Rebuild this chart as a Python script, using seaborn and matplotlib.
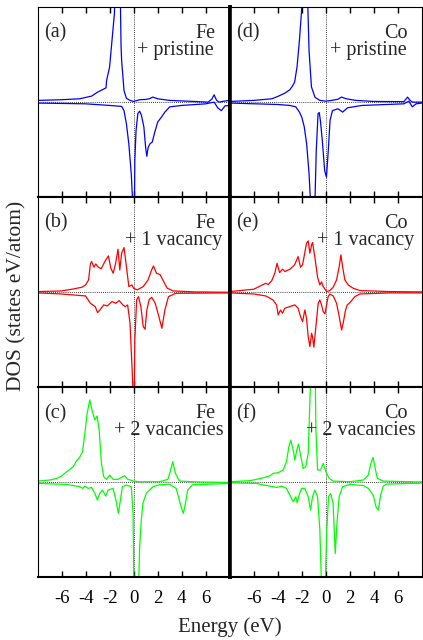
import numpy as np
import matplotlib
matplotlib.use("Agg")
import matplotlib.pyplot as plt
import seaborn as sns

# energies (eV) and DOS values, in units of half a panel height
# (a) Fe + pristine
fe0_up_x = [-8, -6, -4.5, -3.5, -3, -2.5, -2.3, -2.25, -2.0, -1.8, -1.6, -1.45, -1.25, -1.15, -1.05,
            -1.0, -0.8, -0.6, -0.3, 0, 0.5, 1.0, 1.3, 1.6, 2.0, 3, 5, 6.2, 6.5, 6.7, 6.9, 7.1, 7.5, 8]
fe0_up_y = [0.018, 0.025, 0.035, 0.063, 0.105, 0.137, 0.15, 0.228, 0.37, 0.65, 0.93, 1.6, 2.2, 1.5, 0.6,
            0.44, 0.12, 0.04, 0.018, 0.007, 0.025, 0.028, 0.035, 0.053, 0.035, 0.018, 0.007, 0.0, 0.03,
            0.077, 0.02, 0.0, 0.01, 0.018]
fe0_dn_x = [-8, -4, -2, -1.0, -0.8, -0.6, -0.4, -0.2, -0.1, -0.03, 0.05, 0.1, 0.2, 0.35, 0.5, 0.65,
            0.85, 1.0, 1.1, 1.2, 1.35, 1.55, 1.75, 2.0, 2.3, 2.6, 3.0, 4, 6, 6.7, 7.0, 7.3, 7.6, 8]
fe0_dn_y = [-0.01, -0.018, -0.035, -0.045, -0.09, -0.23, -0.44, -0.75, -1.0, -1.4, -1.4, -0.61, -0.3,
            -0.12, -0.095, -0.14, -0.26, -0.48, -0.57, -0.48, -0.44, -0.42, -0.32, -0.21, -0.16, -0.105,
            -0.05, -0.035, -0.018, 0.0, -0.06, -0.09, -0.04, -0.035]

# (d) Co + pristine
co0_up_x = [-8, -6, -4.5, -4.0, -3.4, -3.0, -2.8, -2.6, -2.4, -2.2, -2.0, -1.8, -1.65, -1.5, -1.4,
            -1.2, -0.9, -0.5, 0, 0.5, 1.0, 1.3, 1.7, 2.5, 4, 6.5, 6.8, 7.0, 7.2, 8]
co0_up_y = [0.007, 0.018, 0.035, 0.06, 0.095, 0.13, 0.165, 0.21, 0.37, 0.65, 1.0, 2.0, 2.0, 1.0, 0.54,
            0.16, 0.05, 0.018, 0.01, 0.018, 0.03, 0.053, 0.035, 0.018, 0.007, 0.005, 0.053, 0.02, 0.0, 0.0]
co0_dn_x = [-8, -4, -3, -2.5, -2.2, -2.0, -1.8, -1.6, -1.4, -1.3, -1.15, -0.95, -0.9, -0.8, -0.65,
            -0.55, -0.45, -0.3, -0.1, 0.05, 0.2, 0.35, 0.55, 1.0, 1.4, 1.8, 3, 6.5, 6.9, 7.2, 7.5, 8]
co0_dn_y = [-0.01, -0.025, -0.035, -0.05, -0.105, -0.16, -0.26, -0.44, -0.75, -1.0, -1.8, -1.8, -1.0,
            -0.51, -0.12, -0.11, -0.2, -0.40, -0.72, -0.79, -0.51, -0.19, -0.09, -0.07, -0.105, -0.06,
            -0.035, -0.018, 0.01, -0.05, -0.018, -0.01]

# (b) Fe + 1 vacancy
fe1_up_x = [-8, -6, -5, -4.3, -4.0, -3.75, -3.6, -3.5, -3.3, -3.15, -3.0, -2.7, -2.4, -2.1, -1.9, -1.7,
            -1.5, -1.3, -1.15, -1.0, -0.8, -0.6, -0.4, -0.15, 0, 0.3, 0.8, 1.2, 1.5, 1.65, 1.9, 2.2,
            2.5, 2.8, 3.3, 5, 8]
fe1_up_y = [0.007, 0.014, 0.035, 0.053, 0.077, 0.13, 0.298, 0.323, 0.263, 0.298, 0.27, 0.246, 0.323,
            0.382, 0.253, 0.2, 0.305, 0.453, 0.235, 0.411, 0.47, 0.27, 0.06, 0.077, 0.042, 0.025, 0.06,
            0.13, 0.235, 0.277, 0.2, 0.186, 0.112, 0.042, 0.014, 0.004, 0.0]
fe1_dn_x = [-8, -6, -4, -3.6, -3.2, -3.0, -2.8, -2.5, -2.2, -1.8, -1.5, -1.2, -0.9, -0.7, -0.5, -0.3,
            -0.1, -0.02, 0.05, 0.1, 0.25, 0.4, 0.6, 0.8, 0.95, 1.1, 1.3, 1.5, 1.8, 2.1, 2.35, 2.6, 2.9,
            3.5, 8]
fe1_dn_y = [-0.007, -0.018, -0.039, -0.116, -0.151, -0.214, -0.186, -0.133, -0.144, -0.098, -0.116,
            -0.088, -0.133, -0.151, -0.133, -0.326, -0.888, -1.17, -1.17, -0.502, -0.081, -0.046, -0.151,
            -0.361, -0.389, -0.186, -0.074, -0.053, -0.116, -0.256, -0.379, -0.186, -0.046, -0.011, -0.007]

# (e) Co + 1 vacancy
co1_up_x = [-8, -6, -5.0, -4.8, -4.5, -4.25, -4.06, -3.85, -3.6, -3.4, -3.0, -2.6, -2.31, -2.11, -1.94,
            -1.61, -1.47, -1.33, -1.19, -1.11, -0.92, -0.69, -0.5, -0.36, -0.22, 0.06, 0.33, 0.61, 0.89,
            1.11, 1.25, 1.39, 1.58, 1.86, 2.28, 2.83, 5.33, 8]
co1_up_y = [0.007, 0.032, 0.095, 0.081, 0.123, 0.2, 0.305, 0.207, 0.242, 0.218, 0.242, 0.288, 0.375,
            0.263, 0.288, 0.516, 0.54, 0.411, 0.498, 0.523, 0.375, 0.158, 0.077, 0.109, 0.06, 0.007, 0.018,
            0.053, 0.13, 0.27, 0.393, 0.27, 0.13, 0.077, 0.042, 0.018, 0.007, 0.004]
co1_dn_x = [-8, -6, -5.0, -4.4, -4.1, -3.97, -3.78, -3.61, -3.42, -3.0, -2.58, -2.31, -2.11, -1.94,
            -1.75, -1.61, -1.47, -1.33, -1.19, -1.11, -1.0, -0.83, -0.64, -0.5, -0.36, -0.22, -0.08, 0.06,
            0.19, 0.33, 0.61, 0.89, 1.11, 1.31, 1.44, 1.64, 1.78, 2.0, 2.42, 2.83, 5.33, 8]
co1_dn_y = [-0.007, -0.018, -0.039, -0.081, -0.133, -0.239, -0.186, -0.221, -0.168, -0.151, -0.133,
            -0.168, -0.256, -0.309, -0.186, -0.274, -0.467, -0.572, -0.432, -0.467, -0.579, -0.361, -0.116,
            -0.081, -0.133, -0.204, -0.228, -0.133, -0.046, -0.018, -0.039, -0.116, -0.256, -0.397, -0.326,
            -0.186, -0.133, -0.109, -0.046, -0.018, -0.007, -0.007]

# (c) Fe + 2 vacancies
fe2_up_x = [-8, -6.96, -6.4, -6.0, -5.58, -5.3, -5.03, -4.75, -4.47, -4.25, -4.06, -3.87, -3.65, -3.43,
            -3.23, -3.04, -2.87, -2.68, -2.49, -2.27, -1.99, -1.71, -1.3, -0.75, -0.47, 0, 0.5, 2.15,
            2.85, 3.04, 3.26, 3.48, 3.81, 5.5, 8]
fe2_up_y = [0.014, 0.025, 0.042, 0.067, 0.112, 0.137, 0.165, 0.228, 0.27, 0.323, 0.516, 0.726, 0.867,
            0.744, 0.656, 0.698, 0.551, 0.2, 0.06, 0.032, 0.077, 0.032, 0.032, 0.07, 0.032, 0.014, 0.007,
            0.007, 0.032, 0.112, 0.218, 0.095, 0.014, 0.004, 0.0]
fe2_dn_x = [-8, -5.58, -4.47, -4.25, -4.06, -3.78, -3.5, -3.23, -3.01, -2.82, -2.6, -2.32, -2.13, -1.71,
            -1.44, -1.27, -1.1, -0.94, -0.61, -0.19, -0.05, 0.05, 0.35, 0.5, 0.64, 0.77, 1.05, 1.6, 2.15,
            2.98, 3.54, 3.95, 4.14, 4.31, 4.5, 4.9, 8]
fe2_dn_y = [-0.011, -0.021, -0.046, -0.063, -0.039, -0.063, -0.053, -0.116, -0.186, -0.116, -0.081,
            -0.144, -0.081, -0.063, -0.204, -0.326, -0.186, -0.046, -0.028, -0.046, -0.326, -1.4, -1.4,
            -0.677, -0.396, -0.221, -0.116, -0.046, -0.025, -0.018, -0.063, -0.256, -0.326, -0.221,
            -0.081, -0.025, -0.011]

# (f) Co + 2 vacancies
co2_up_x = [-8, -6.33, -5.78, -5.22, -4.67, -4.39, -3.97, -3.56, -3.28, -3.08, -2.92, -2.72, -2.58,
            -2.42, -2.28, -2.08, -1.89, -1.67, -1.47, -1.3, -1.15, -0.95, -0.83, -0.69, -0.44, -0.22, 0,
            0.28, 0.61, 2.0, 3.11, 3.53, 3.75, 3.92, 4.08, 4.28, 4.78, 8]
co2_up_y = [0.007, 0.018, 0.032, 0.049, 0.067, 0.095, 0.102, 0.13, 0.218, 0.375, 0.446, 0.34, 0.235,
            0.34, 0.404, 0.27, 0.147, 0.165, 0.305, 0.972, 1.8, 1.8, 0.551, 0.13, 0.13, 0.2, 0.112, 0.042,
            0.014, 0.007, 0.025, 0.077, 0.2, 0.263, 0.165, 0.042, 0.014, 0.004]
co2_dn_x = [-8, -5.78, -4.67, -4.1, -3.69, -3.28, -3.0, -2.72, -2.5, -2.39, -2.22, -2.03, -1.75, -1.47,
            -1.28, -1.11, -0.92, -0.69, -0.5, -0.36, -0.25, -0.12, -0.04, 0.08, 0.22, 0.4, 0.6, 0.78,
            0.94, 1.11, 1.39, 2.0, 2.56, 3.11, 3.53, 3.94, 4.17, 4.36, 4.56, 4.78, 5.06, 8]
co2_dn_y = [-0.004, -0.011, -0.039, -0.053, -0.039, -0.063, -0.133, -0.204, -0.151, -0.214, -0.133,
            -0.063, -0.063, -0.151, -0.291, -0.151, -0.081, -0.151, -0.502, -1.1, -1.8, -1.8, -1.0,
            -0.502, -0.151, -0.116, -0.221, -0.747, -0.397, -0.151, -0.046, -0.021, -0.028, -0.032,
            -0.063, -0.133, -0.256, -0.291, -0.133, -0.039, -0.018, -0.007]

panels = [
    # (row, col, tag, metal, label, color, up_x, up_y, dn_x, dn_y)
    (0, 0, "(a)", "Fe", "+ pristine", "#0000ff", fe0_up_x, fe0_up_y, fe0_dn_x, fe0_dn_y),
    (1, 0, "(b)", "Fe", "+ 1 vacancy", "#ff0000", fe1_up_x, fe1_up_y, fe1_dn_x, fe1_dn_y),
    (2, 0, "(c)", "Fe", "+ 2 vacancies", "#00ff00", fe2_up_x, fe2_up_y, fe2_dn_x, fe2_dn_y),
    (0, 1, "(d)", "Co", "+ pristine", "#0000ff", co0_up_x, co0_up_y, co0_dn_x, co0_dn_y),
    (1, 1, "(e)", "Co", "+ 1 vacancy", "#ff0000", co1_up_x, co1_up_y, co1_dn_x, co1_dn_y),
    (2, 1, "(f)", "Co", "+ 2 vacancies", "#00ff00", co2_up_x, co2_up_y, co2_dn_x, co2_dn_y),
]
label_left = {"+ pristine": 0.52, "+ 1 vacancy": 0.455, "+ 2 vacancies": 0.397}

sns.set_style("ticks")
plt.rcParams['font.family'] = ['Liberation Serif', 'DejaVu Serif']
plt.rcParams['axes.unicode_minus'] = False

fig, axes = plt.subplots(3, 2, figsize=(4.23, 6.4), dpi=100)
fig.subplots_adjust(left=0.0887, right=0.9976, bottom=0.0977, top=0.989, wspace=0, hspace=0)

for row, col, tag, metal, lab, c, ux, uy, dx, dy in panels:
    ax = axes[row, col]
    sns.lineplot(x=ux, y=uy, ax=ax, color=c, linewidth=0.9, estimator=None, sort=False)
    sns.lineplot(x=dx, y=dy, ax=ax, color=c, linewidth=0.9, estimator=None, sort=False)
    ax.axhline(0, color="black", linestyle=(0, (1, 1.5)), linewidth=0.6, zorder=1)
    ax.axvline(0, color="black", linestyle=(0, (1, 1.5)), linewidth=0.6, zorder=1)
    ax.set_xlim(-8, 8)
    ax.set_ylim(-1, 1)
    ax.set_yticks([])
    ax.set_xticks([-6, -4, -2, 0, 2, 4, 6])
    ax.tick_params(axis="x", direction="in", top=True, bottom=True, length=4.5, width=1,
                   labelsize=13.5, pad=9, colors="black")
    if row < 2:
        ax.tick_params(labelbottom=False)
    ax.set_xlabel("")
    ax.set_ylabel("")
    for s in ax.spines.values():
        s.set_color("black")
        s.set_linewidth(0.8)
    ax.spines["top"].set_linewidth(0.8 if row == 0 else 1.5)
    ax.spines["bottom"].set_linewidth(1.5)
    if col == 0:
        ax.spines["right"].set_linewidth(2.6)
    else:
        ax.spines["left"].set_linewidth(2.6)
    ax.text(0.034, 0.863, tag, transform=ax.transAxes, fontsize=14.5, ha="left", va="center")
    ax.text(0.927, 0.863, metal, transform=ax.transAxes, fontsize=14.5, ha="right", va="center")
    ax.text(label_left[lab], 0.772, lab, transform=ax.transAxes, fontsize=14.5, ha="left", va="center")

fig.text(230 / 423, 1 - 627 / 640, "Energy (eV)", fontsize=15, ha="center", va="center")
fig.text(17 / 423, 1 - 296 / 640, "DOS (states eV/atom)", fontsize=15.5, ha="center", va="center",
         rotation=90)

fig.savefig("out.png", dpi=100)
